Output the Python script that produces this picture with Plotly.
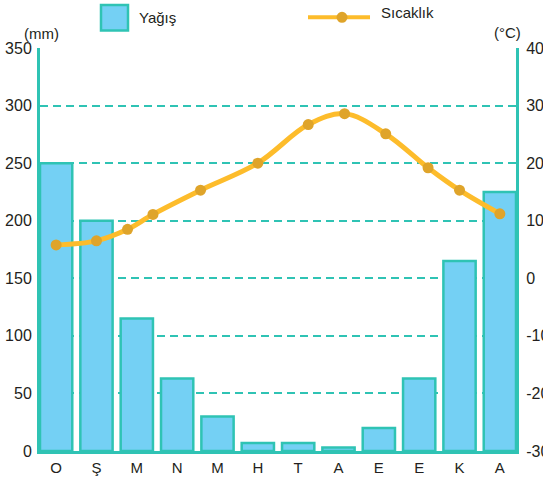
import plotly.graph_objects as go

# ---- data ----
months = ["O", "Ş", "M", "N", "M", "H", "T", "A", "E", "E", "K", "A"]
month_pos = list(range(12))
precip_mm = [250, 200, 115, 63, 30, 7, 7, 3, 20, 63, 165, 225]
temp_pos = [0, 1, 1.77, 2.4, 3.58, 5.0, 6.25, 7.15, 8.17, 9.22, 10, 11]
temp_c = [5.8, 6.5, 8.5, 11.1, 15.3, 20.0, 26.7, 28.6, 25.1, 19.2, 15.3, 11.2]
left_ticks = [0, 50, 100, 150, 200, 250, 300, 350]
right_ticks = [-30, -20, -10, 0, 10, 20, 30, 40]
right_labels = ["-30", "-20", "-10", "0", "10", "20", "30", "40"]

TEAL = "#2FC3B4"
BLUE = "#74D0F4"
YELLOW = "#FDBC2B"
GOLD = "#DFA42A"
TXT = "#231F20"
FONT = "Liberation Sans, Arial, sans-serif"

fig = go.Figure()
fig.add_trace(go.Bar(
    x=month_pos, y=precip_mm, width=0.8,
    marker=dict(color=BLUE, line=dict(color=TEAL, width=2.5)),
    name="Yağış", showlegend=False,
))
fig.add_trace(go.Scatter(
    x=temp_pos, y=temp_c, yaxis="y2", mode="lines+markers",
    line=dict(color=YELLOW, width=5, shape="spline", smoothing=1.0),
    marker=dict(color=GOLD, size=11),
    name="Sıcaklık", showlegend=False,
))

fig.update_layout(
    width=543, height=482,
    margin=dict(l=40, r=27, t=48, b=31, autoexpand=False),
    paper_bgcolor="white", plot_bgcolor="white",
    font=dict(family=FONT, size=15, color=TXT),
    showlegend=False,
    xaxis=dict(
        range=[-0.4, 11.4], tickvals=month_pos, ticktext=months,
        showgrid=False, zeroline=False, automargin=False,
        showline=True, linecolor=TEAL, linewidth=3,
        ticks="", ticklabelstandoff=1,
        tickfont=dict(size=15, color=TXT),
    ),
    yaxis=dict(
        range=[0, 350], tickvals=left_ticks, automargin=False,
        showgrid=True, gridcolor=TEAL, gridwidth=1.8, griddash="8px,5px",
        zeroline=False, showline=True, linecolor=TEAL, linewidth=3,
        ticks="", ticklabelstandoff=2,
        tickfont=dict(size=16, color=TXT),
    ),
    yaxis2=dict(
        range=[-30, 40], tickvals=right_ticks, ticktext=right_labels,
        overlaying="y", side="right",
        showgrid=False, zeroline=False, automargin=False,
        showline=True, linecolor=TEAL, linewidth=3,
        ticks="", ticklabelstandoff=4,
        tickfont=dict(size=16, color=TXT),
    ),
)

# custom legend
def px_x(p):
    return (p - 40) / 476.0

def px_y(p):
    return (451 - p) / 403.0

fig.add_shape(type="rect", xref="paper", yref="paper",
              x0=px_x(101), x1=px_x(128), y0=px_y(30.5), y1=px_y(5),
              fillcolor=BLUE, line=dict(color=TEAL, width=2.5))
fig.add_shape(type="line", xref="paper", yref="paper",
              x0=px_x(308), x1=px_x(370), y0=px_y(17.3), y1=px_y(17.3),
              line=dict(color=YELLOW, width=4))
fig.add_shape(type="circle", xref="paper", yref="paper",
              xsizemode="pixel", ysizemode="pixel",
              xanchor=px_x(342), yanchor=px_y(17.3),
              x0=-5.5, x1=5.5, y0=-5.5, y1=5.5,
              fillcolor=GOLD, line=dict(color=GOLD, width=0))

fig.add_annotation(text="Yağış", xref="paper", yref="paper",
                   x=px_x(137), y=px_y(17), xanchor="left", yanchor="middle",
                   showarrow=False, font=dict(size=15, color=TXT))
fig.add_annotation(text="Sıcaklık", xref="paper", yref="paper",
                   x=px_x(379), y=px_y(12), xanchor="left", yanchor="middle",
                   showarrow=False, font=dict(size=15, color=TXT))
fig.add_annotation(text="(mm)", xref="paper", yref="paper",
                   x=px_x(41), y=px_y(34), xanchor="center", yanchor="middle",
                   showarrow=False, font=dict(size=15, color=TXT))
fig.add_annotation(text="(°C)", xref="paper", yref="paper",
                   x=px_x(507), y=px_y(33), xanchor="center", yanchor="middle",
                   showarrow=False, font=dict(size=15, color=TXT))

fig.write_html("out.html", config={"displayModeBar": False},
               post_script="document.body.style.margin='0';")
